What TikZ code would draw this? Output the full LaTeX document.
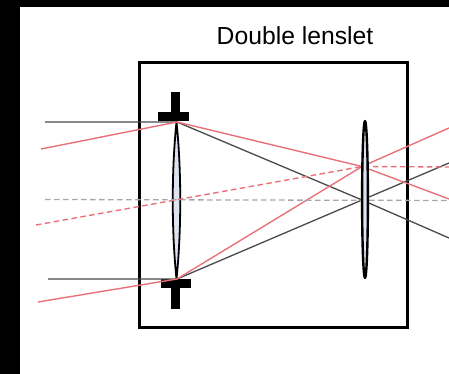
\documentclass[tikz,border=0pt]{standalone}
\usepackage{fontspec}
\setmainfont{Liberation Sans}
\definecolor{rayred}{HTML}{E8727A}
\definecolor{rayblack}{HTML}{4A4A4A}
\definecolor{raygrey}{HTML}{A8A6AC}
\definecolor{lensfill}{HTML}{DDE3F0}
\tikzset{
  ray/.style={line width=1.3pt,rayblack},
  redray/.style={line width=1.4pt,rayred},
  axisray/.style={line width=1.3pt,raygrey,dash pattern=on 5.5pt off 3.5pt},
  reddash/.style={line width=1.4pt,rayred,dash pattern=on 5.5pt off 3.5pt},
  lens/.style={draw=black,fill=lensfill,line join=round},
  stop/.style={fill=black,draw=none},
}
\begin{document}
\begin{tikzpicture}[x=1pt,y=-1pt]
\useasboundingbox (0,0) rectangle (449,374);
\fill[white] (0,0) rectangle (449,374);
\fill[black] (0,0) rectangle (20,374);
\fill[black] (0,0) rectangle (449,7);
% named points
\coordinate (t1) at (177,122);
\coordinate (b1) at (177,279);
\coordinate (f1) at (362,200);
\coordinate (f2) at (362,166.5);
\coordinate (inT) at (45,122);
\coordinate (inB) at (48,279);
\coordinate (inTr) at (41,149);
\coordinate (inBr) at (38,302);
\coordinate (outT) at (449,238);
\coordinate (outB) at (449,163);
\coordinate (outTr) at (449,199);
\coordinate (outBr) at (449,128);
\coordinate (axL) at (45,199.5);
\coordinate (axR) at (449,200.5);
\coordinate (dL) at (36,225);
\coordinate (dR) at (449,167);
% frame
\draw[line width=3pt,black] (139.5,63) rectangle (407,327);
\node[font=\fontsize{24.7}{28}\selectfont,inner sep=0pt,anchor=base] (title) at (295,45) {Double lenslet};
% first lens and stops
\draw[lens,line width=1.8pt] (176.5,122) .. controls (171.5,170) and (171.5,231) .. (176.5,279)
   .. controls (181.5,231) and (181.5,170) .. (176.5,122) -- cycle;
\fill[stop] (171,92) rectangle (180,112);
\fill[stop] (158,112) rectangle (189,121);
\fill[stop] (161,279) rectangle (191,288);
\fill[stop] (171,288) rectangle (180,309);
% rays
\draw[ray] (inT) -- (t1) -- (f1) -- (outT);
\draw[ray] (inB) -- (b1) -- (f1) -- (outB);
\draw[redray] (inTr) -- (t1) -- (f2) -- (outTr);
\draw[redray] (inBr) -- (b1) -- (f2) -- (outBr);
\draw[axisray] (axL) -- (axR);
\draw[reddash] (dL) -- (f2) -- (dR);
% second lens
\draw[lens,line width=2.4pt] (365,199.5) ellipse (2.9 and 78.5);
\end{tikzpicture}
\end{document}
